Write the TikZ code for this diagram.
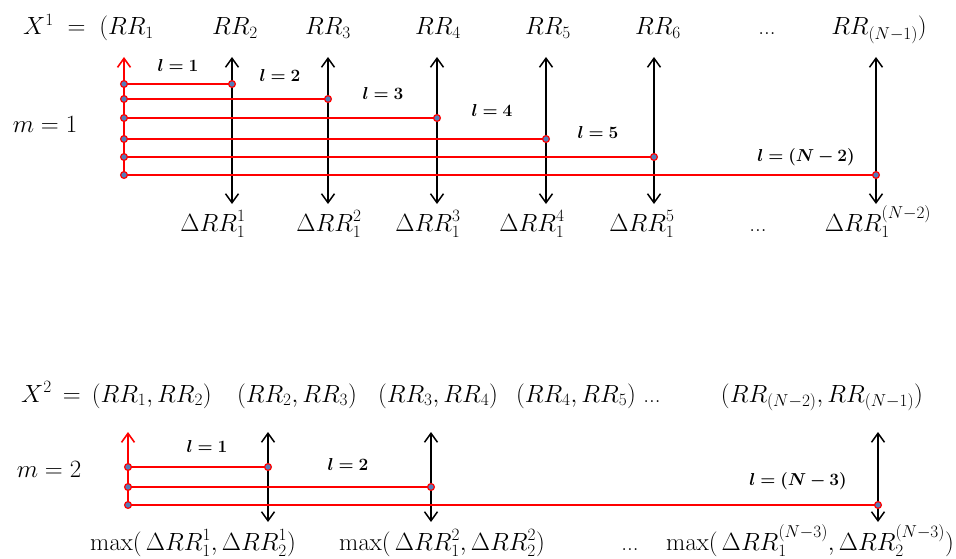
\documentclass[tikz,border=0pt]{standalone}
\usepackage{amsmath,amsfonts}
\usepackage{bm}
\usepackage{xcolor}
\definecolor{LagRed}{RGB}{255,0,0}
\definecolor{DotBlue}{RGB}{84,124,184}
\usepackage{tikz}
\usetikzlibrary{math,arrows.meta}
\newcommand*{\Lag}[1]{\boldsymbol{l = #1}}

\tikzset{
  lagline/.style={draw=LagRed,line width=1.6pt},
  rrarrow/.style={draw=black,line width=1.5pt,
    {Straight Barb[length=9pt,width=13pt]}-{Straight Barb[length=9pt,width=13pt]}},
  lagtip/.style={-{Straight Barb[length=9pt,width=13pt]}},
  lagdot/.style={fill=DotBlue,draw=LagRed,line width=1.2pt},
  laglabel/.style={anchor=base,font=\fontsize{17}{20}\selectfont},
}

\begin{document}
\begin{tikzpicture}[x=1pt,y=-1pt,inner sep=1pt,font=\fontsize{23}{27}\selectfont]
    \tikzmath{
      \r=3.4; % dot radius
      \xa=124; % lags start, m = 1
      \xb=128; % lags start, m = 2
    }
    \useasboundingbox (0,0) rectangle (956,559);

    % ---- m = 1 ----
    \node[anchor=base west] (X1) at (22,35) {$X^1 \;=\; (RR_1$};
    \node[anchor=base] (RR2) at (235,35) {$RR_2$};
    \node[anchor=base] (RR3) at (328,35) {$RR_3$};
    \node[anchor=base] (RR4) at (438,35) {$RR_4$};
    \node[anchor=base] (RR5) at (548,35) {$RR_5$};
    \node[anchor=base] (RR6) at (658,35) {$RR_6$};
    \node[anchor=base] (dotsA) at (767,35) {...};
    \node[anchor=base east] (RRN) at (928,35) {$RR_{(N-1)})$};
    \node[anchor=base] (m1) at (45,133) {$m = 1$};

    \foreach \i/\x/\y in {1/232/84,2/328/99,3/437/118,4/546/139,5/654/157,6/876/175}{
      \coordinate (a\i) at (\xa,\y);
      \coordinate (b\i) at (\x,\y);
      \coordinate (up\i) at (\x,57);
      \coordinate (dn\i) at (\x,204);
    }
    \coordinate (topA) at (\xa,57);
    \draw[lagline,lagtip] (a6) -- (topA);
    \foreach \i in {1,...,6}{
      \draw[lagline] (a\i) -- (b\i);
      \draw[rrarrow] (dn\i) -- (up\i);
      \filldraw[lagdot] (a\i) circle (\r);
      \filldraw[lagdot] (b\i) circle (\r);
    }

    \node[laglabel] (l11) at (178,72) {$\Lag{1}$};
    \node[laglabel] (l12) at (280,82) {$\Lag{2}$};
    \node[laglabel] (l13) at (383,100) {$\Lag{3}$};
    \node[laglabel] (l14) at (492,117) {$\Lag{4}$};
    \node[laglabel] (l15) at (598,139) {$\Lag{5}$};
    \node[laglabel] (l16) at (806,161) {$\Lag{(N-2)}$};

    \node[anchor=base] (d1) at (213,231) {$\Delta RR_1^1$};
    \node[anchor=base] (d2) at (329,231) {$\Delta RR_1^2$};
    \node[anchor=base] (d3) at (428,231) {$\Delta RR_1^3$};
    \node[anchor=base] (d4) at (532,231) {$\Delta RR_1^4$};
    \node[anchor=base] (d5) at (642,231) {$\Delta RR_1^5$};
    \node[anchor=base] (dotsB) at (758,231) {...};
    \node[anchor=base] (dN) at (878,231) {$\Delta RR_1^{(N-2)}$};

    % ---- m = 2 ----
    \node[anchor=base west] (X2) at (20,402) {$X^2 \,=\, (RR_1,RR_2)$};
    \node[anchor=base] (P23) at (297,402) {$(RR_2,RR_3)$};
    \node[anchor=base] (P34) at (438,402) {$(RR_3,RR_4)$};
    \node[anchor=base] (P45) at (576,402) {$(RR_4,RR_5)$};
    \node[anchor=base] (dotsC) at (652,402) {...};
    \node[anchor=base] (PN) at (822,402) {$(RR_{(N-2)},RR_{(N-1)})$};
    \node[anchor=base] (m2) at (49,477) {$m = 2$};

    \foreach \i/\x/\y in {1/268/467,2/431/487,3/878/505}{
      \coordinate (c\i) at (\xb,\y);
      \coordinate (e\i) at (\x,\y);
      \coordinate (upb\i) at (\x,432);
      \coordinate (dnb\i) at (\x,522);
    }
    \coordinate (topB) at (\xb,432);
    \draw[lagline,lagtip] (c3) -- (topB);
    \foreach \i in {1,2,3}{
      \draw[lagline] (c\i) -- (e\i);
      \draw[rrarrow] (dnb\i) -- (upb\i);
      \filldraw[lagdot] (c\i) circle (\r);
      \filldraw[lagdot] (e\i) circle (\r);
    }

    \node[laglabel] (l21) at (207,452) {$\Lag{1}$};
    \node[laglabel] (l22) at (348,470) {$\Lag{2}$};
    \node[laglabel] (l23) at (798,485) {$\Lag{(N-3)}$};

    \node[anchor=base] (mx1) at (193,550) {$\max(\,\Delta RR_1^1,\Delta RR_2^1)$};
    \node[anchor=base] (mx2) at (442,550) {$\max(\,\Delta RR_1^2,\Delta RR_2^2)$};
    \node[anchor=base] (dotsD) at (630,550) {...};
    \node[anchor=base] (mxN) at (810,550) {$\max(\,\Delta RR_1^{(N-3)},\Delta RR_2^{(N-3)})$};
  \end{tikzpicture}
\end{document}
